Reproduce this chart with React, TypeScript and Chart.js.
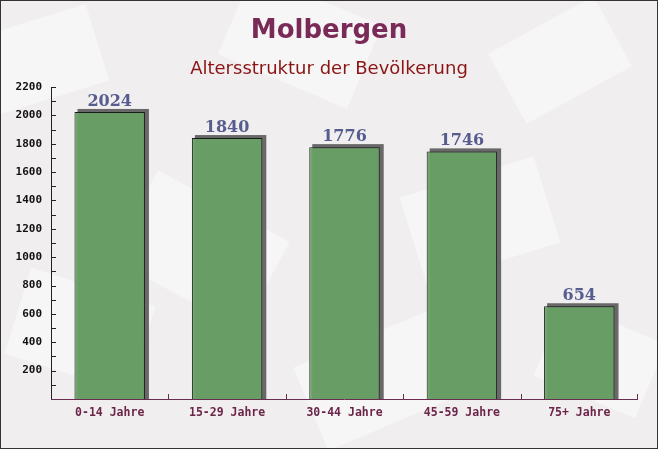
import React, { useEffect, useRef } from "react";
import { Chart, registerables } from "chart.js";

Chart.register(...registerables);

const categories = ["0-14 Jahre", "15-29 Jahre", "30-44 Jahre", "45-59 Jahre", "75+ Jahre"];
const values = [2024, 1840, 1776, 1746, 654];
const yTickLabels = [200, 400, 600, 800, 1000, 1200, 1400, 1600, 1800, 2000, 2200];
const titleText = "Molbergen";
const subtitleText = "Altersstruktur der Bevölkerung";

const bgPlugin = {
  id: "bgPlugin",
  beforeDraw(chart: any) {
    const { ctx, width, height } = chart;
    ctx.save();
    ctx.fillStyle = "#f1eef0";
    ctx.fillRect(0, 0, width, height);
    const shapes = [
      [40, 60, 120, 80, -0.3],
      [300, 40, 140, 90, 0.4],
      [560, 60, 120, 80, -0.5],
      [200, 250, 150, 100, 0.5],
      [480, 220, 140, 90, -0.3],
      [80, 330, 130, 90, 0.3],
      [380, 380, 150, 90, -0.4],
      [600, 360, 110, 80, 0.4],
    ];
    ctx.fillStyle = "rgba(255,255,255,0.45)";
    for (const [x, y, w, h, r] of shapes) {
      ctx.save();
      ctx.translate(x, y);
      ctx.rotate(r);
      ctx.fillRect(-w / 2, -h / 2, w, h);
      ctx.restore();
    }
    ctx.restore();
  },
};

const decorPlugin = {
  id: "decorPlugin",
  beforeDatasetsDraw(chart: any) {
    const { ctx } = chart;
    const meta = chart.getDatasetMeta(0);
    ctx.save();
    ctx.fillStyle = "rgba(80,80,80,0.85)";
    meta.data.forEach((bar: any) => {
      const w = bar.width;
      const left = bar.x - w / 2;
      ctx.fillRect(left + 3, bar.y - 3, w + 1, bar.base - bar.y + 3);
    });
    ctx.restore();
  },
  afterDatasetsDraw(chart: any) {
    const { ctx, chartArea, scales } = chart;
    const meta = chart.getDatasetMeta(0);
    ctx.save();
    // value labels
    ctx.fillStyle = "#565c8e";
    ctx.font = "bold 16px 'DejaVu Serif'";
    ctx.textAlign = "center";
    ctx.textBaseline = "alphabetic";
    meta.data.forEach((bar: any, i: number) => {
      ctx.fillText(String(values[i]), bar.x, bar.y - 6);
    });
    // y axis line
    ctx.strokeStyle = "#222";
    ctx.lineWidth = 1;
    ctx.beginPath();
    ctx.moveTo(chartArea.left + 0.5, chartArea.top);
    ctx.lineTo(chartArea.left + 0.5, chartArea.bottom);
    ctx.stroke();
    // y ticks every 100
    const y = scales.y;
    for (let v = 100; v <= 2200; v += 100) {
      const py = Math.round(y.getPixelForValue(v)) + 0.5;
      ctx.beginPath();
      ctx.moveTo(chartArea.left, py);
      ctx.lineTo(chartArea.left + 5, py);
      ctx.stroke();
    }
    // x axis line
    ctx.strokeStyle = "#6b2d4f";
    ctx.beginPath();
    ctx.moveTo(chartArea.left, chartArea.bottom + 0.5);
    ctx.lineTo(chartArea.right, chartArea.bottom + 0.5);
    ctx.stroke();
    const x = scales.x;
    for (let i = 1; i <= categories.length; i++) {
      const px = Math.round((x.getPixelForValue(i - 1) + x.getPixelForValue(i)) / 2);
      const pxx = i === categories.length ? Math.round(chartArea.right) - 0.5 : px + 0.5;
      ctx.beginPath();
      ctx.moveTo(pxx, chartArea.bottom);
      ctx.lineTo(pxx, chartArea.bottom - 5);
      ctx.stroke();
    }
    ctx.restore();
  },
  afterDraw(chart: any) {
    const { ctx, width, height } = chart;
    ctx.save();
    ctx.textAlign = "center";
    ctx.textBaseline = "middle";
    ctx.fillStyle = "#7a2a57";
    ctx.font = "bold 26px 'DejaVu Sans'";
    ctx.fillText(titleText, width / 2, 31);
    ctx.fillStyle = "#8b1414";
    ctx.font = "18px 'DejaVu Sans'";
    ctx.fillText(subtitleText, width / 2, 69);
    ctx.strokeStyle = "#333";
    ctx.lineWidth = 1;
    ctx.strokeRect(0.5, 0.5, width - 1, height - 1);
    ctx.restore();
  },
};

export default function App() {
  const ref = useRef<HTMLCanvasElement>(null);
  useEffect(() => {
    document.body.style.margin = "0";
    const chart = new Chart(ref.current!, {
      type: "bar",
      data: {
        labels: categories,
        datasets: [
          {
            data: values,
            backgroundColor: "rgba(104,160,102,0.95)",
            borderColor: "#1a1a1a",
            borderWidth: 1,
            categoryPercentage: 1,
            barPercentage: 0.6,
          },
        ],
      },
      options: {
        responsive: false,
        animation: false,
        layout: { padding: { top: 87, right: 20, left: 0, bottom: 0 } },
        plugins: { legend: { display: false }, tooltip: { enabled: false } },
        scales: {
          x: {
            grid: { display: false, drawTicks: false },
            border: { display: false },
            ticks: {
              color: "#6b2548",
              font: { family: "'DejaVu Sans Mono'", size: 11.5, weight: "bold" },
              padding: 7,
              maxRotation: 0,
            },
            afterFit: (s: any) => {
              s.height = 50;
            },
          },
          y: {
            min: 0,
            max: 2200,
            grid: { display: false, drawTicks: false },
            border: { display: false },
            ticks: {
              stepSize: 100,
              color: "#111",
              font: { family: "'DejaVu Sans Mono'", size: 11, weight: "bold" },
              padding: 9,
              callback: (v: any) => (yTickLabels.includes(Number(v)) ? String(v) : ""),
            },
            afterFit: (s: any) => {
              s.width = 51;
            },
          },
        },
      },
      plugins: [bgPlugin, decorPlugin],
    });
    return () => chart.destroy();
  }, []);
  return <canvas ref={ref} width={658} height={449} style={{ display: "block" }} />;
}
